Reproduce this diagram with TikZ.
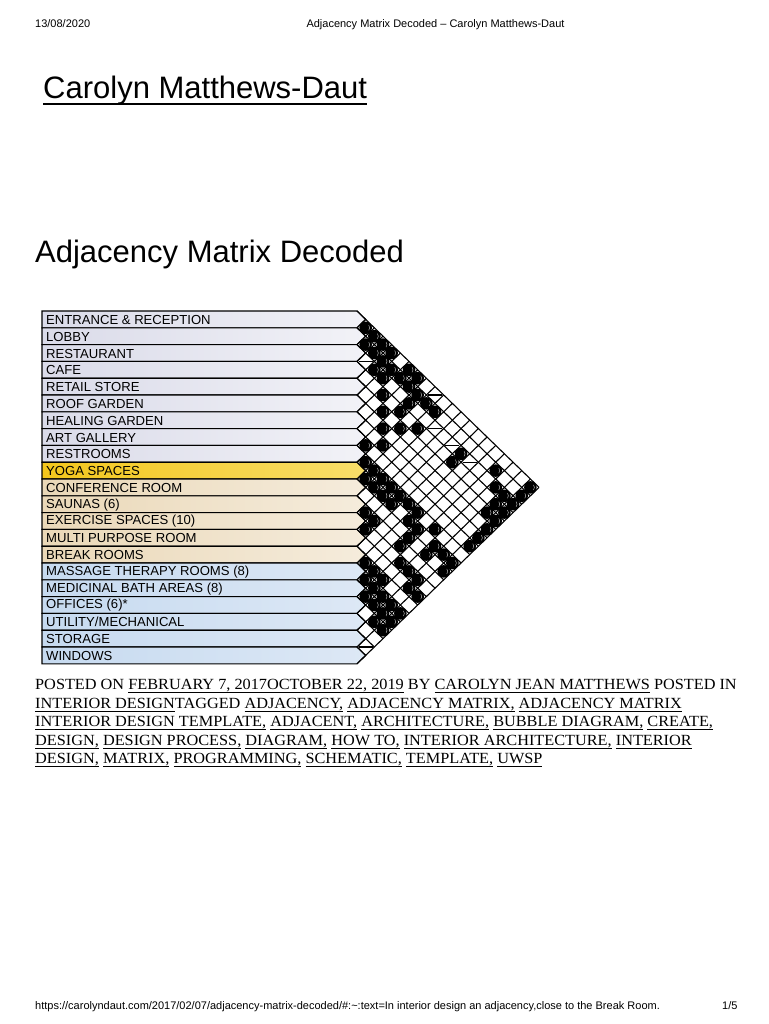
\documentclass[tikz,border=0pt]{standalone}
\usepackage{fontspec}
\setmainfont{Liberation Serif}
\setsansfont{Liberation Sans}
\newfontfamily\postfont[FakeStretch=1.05]{Liberation Serif}
\usetikzlibrary{calc}

\definecolor{lavL}{HTML}{DADBE9}
\definecolor{lavR}{HTML}{F2F2F7}
\definecolor{yogaL}{HTML}{F3C61C}
\definecolor{yogaR}{HTML}{F8DE6A}
\definecolor{sandL}{HTML}{EAD8B8}
\definecolor{sandR}{HTML}{F5ECDC}
\definecolor{skyL}{HTML}{C6DAF0}
\definecolor{skyR}{HTML}{DDE8F5}

\newcommand{\lnk}[1]{\underline{\raisebox{0pt}[\height][1.4pt]{#1}}}

\begin{document}
\begin{tikzpicture}[x=1pt, y=-1pt,
	rowline/.style={draw=black, line width=1.1pt},
	gridline/.style={black, line width=1.1pt},
	rowlabel/.style={anchor=west, inner sep=0pt, font=\sffamily\fontsize{13.1}{13}\selectfont},
	pagetext/.style={anchor=base west, inner sep=0pt, font=\sffamily\fontsize{11}{11}\selectfont},
	posttext/.style={anchor=base west, inner sep=0pt, font=\postfont\fontsize{15.5}{16}\selectfont},
	bigtitle/.style={anchor=base west, inner sep=0pt, font=\sffamily\fontsize{31}{31}\selectfont}]
			
			\useasboundingbox[fill=white] (0,0) rectangle (768,1024);
			
			% page header and titles
			\node[pagetext] (date) at (35,28) {13/08/2020};
			\node[pagetext, anchor=base] (pageTitle) at (435.5,28) {Adjacency Matrix Decoded – Carolyn Matthews-Daut};
			\node[bigtitle] (siteName) at (43,99) {Carolyn Matthews-Daut};
			\draw[line width=2pt] ([yshift=-5pt]siteName.base west) -- ([yshift=-5pt]siteName.base east);
			\node[bigtitle] (postTitle) at (35,262) {Adjacency Matrix Decoded};
			
			% matrix rows
			\def\mx{357} \def\my{311} \def\hx{8.67} \def\hy{8.4}
			\foreach \lbl/\lc/\rc [count=\i from 0] in {ENTRANCE \& RECEPTION/lavL/lavR, LOBBY/lavL/lavR,
				RESTAURANT/lavL/lavR, CAFE/lavL/lavR, RETAIL STORE/lavL/lavR, ROOF GARDEN/lavL/lavR,
				HEALING GARDEN/lavL/lavR, ART GALLERY/lavL/lavR, RESTROOMS/lavL/lavR, YOGA SPACES/yogaL/yogaR,
				CONFERENCE ROOM/sandL/sandR, SAUNAS (6)/sandL/sandR, EXERCISE SPACES (10)/sandL/sandR,
				MULTI PURPOSE ROOM/sandL/sandR, BREAK ROOMS/sandL/sandR, MASSAGE THERAPY ROOMS (8)/skyL/skyR,
				MEDICINAL BATH AREAS (8)/skyL/skyR, OFFICES (6)*/skyL/skyR, {UTILITY/MECHANICAL}/skyL/skyR,
				STORAGE/skyL/skyR, WINDOWS/skyL/skyR} {
				\pgfmathsetmacro\yt{\my+2*\hy*\i}
				\draw[rowline, left color=\lc, right color=\rc] (42,\yt) -- (\mx,\yt) -- ({\mx+\hx},{\yt+\hy})
					-- (\mx,{\yt+2*\hy}) -- (42,{\yt+2*\hy}) -- cycle;
				\node[rowlabel] (room\i) at (46,{\yt+\hy+0.5}) {\lbl};
			}
			
			% diagonal grid
			\foreach \k in {0,...,21} {
				\draw[gridline] (\mx,{\my+2*\hy*\k}) -- ++({(21-\k)*\hx},{(21-\k)*\hy});
				\draw[gridline] (\mx,{\my+2*\hy*\k}) -- ++({\k*\hx},{-\k*\hy});
			}
			
			\foreach \i/\j in {0/9, 2/3, 2/11, 2/13, 2/15, 19/20} {
				\draw[gridline] ({\mx+(\j-\i)*\hx-7},{\my+(\i+\j+1)*\hy}) -- ++(14,0);
			}
			
			% adjacencies
			\foreach \i/\j in {0/1, 0/2, 1/2, 0/3, 1/3, 0/4, 1/4, 2/4, 1/5, 0/6, 2/5, 1/6, 0/7, 1/7, 3/6,
				1/8, 2/8, 1/9, 4/7, 3/8, 1/10, 5/8, 4/9, 3/10, 7/8, 6/9, 2/14, 3/14, 1/17, 8/9, 8/10, 8/11, 9/10,
				9/11, 8/12, 9/12, 8/13, 9/13, 8/14, 11/12, 8/15, 11/13, 9/15, 12/13, 8/17, 9/16, 10/16, 9/18,
				9/19, 11/16, 14/15, 12/17, 10/18, 9/20, 14/16, 10/20, 15/16, 14/17, 12/18, 15/17, 12/19, 16/17,
				15/18, 13/19, 16/18, 15/19, 13/20, 16/19, 15/20, 17/19, 16/20, 17/20,
				2/18, 0/20, 2/19, 1/20, 3/19, 2/20, 4/19, 3/20, 4/20, 5/20, 6/20, 7/20} {
				\fill ({\mx+(\j-\i)*\hx},{\my+(\i+\j+1)*\hy}) circle[radius=6.3];
				\draw[black!25, line width=0.45pt] ({\mx+(\j-\i)*\hx},{\my+(\i+\j+1)*\hy}) ++(-40:4)
					arc[start angle=-40, end angle=40, radius=4];
			}
			
			% post meta
			\node[posttext] (meta1) at (35,689) {POSTED ON \lnk{FEBRUARY 7, 2017OCTOBER 22, 2019} BY \lnk{CAROLYN JEAN MATTHEWS} POSTED IN};
			\node[posttext] (meta2) at (35,708) {\lnk{INTERIOR DESIGN}TAGGED \lnk{ADJACENCY,} \lnk{ADJACENCY MATRIX,} \lnk{ADJACENCY MATRIX}};
			\node[posttext] (meta3) at (35,726) {\lnk{INTERIOR DESIGN TEMPLATE,} \lnk{ADJACENT,} \lnk{ARCHITECTURE,} \lnk{BUBBLE DIAGRAM,} \lnk{CREATE,}};
			\node[posttext] (meta4) at (35,745) {\lnk{DESIGN,} \lnk{DESIGN PROCESS,} \lnk{DIAGRAM,} \lnk{HOW TO,} \lnk{INTERIOR ARCHITECTURE,} \lnk{INTERIOR}};
			\node[posttext] (meta5) at (35,763) {\lnk{DESIGN,} \lnk{MATRIX,} \lnk{PROGRAMMING,} \lnk{SCHEMATIC,} \lnk{TEMPLATE,} \lnk{UWSP}};
			
			% page footer
			\node[pagetext] (footUrl) at (35,1009) {https://carolyndaut.com/2017/02/07/adjacency-matrix-decoded/\#:\textasciitilde:text=In interior design an adjacency,close to the Break Room.};
			\node[pagetext] (pageNo) at (722,1009) {1/5};
			
		\end{tikzpicture}
\end{document}
